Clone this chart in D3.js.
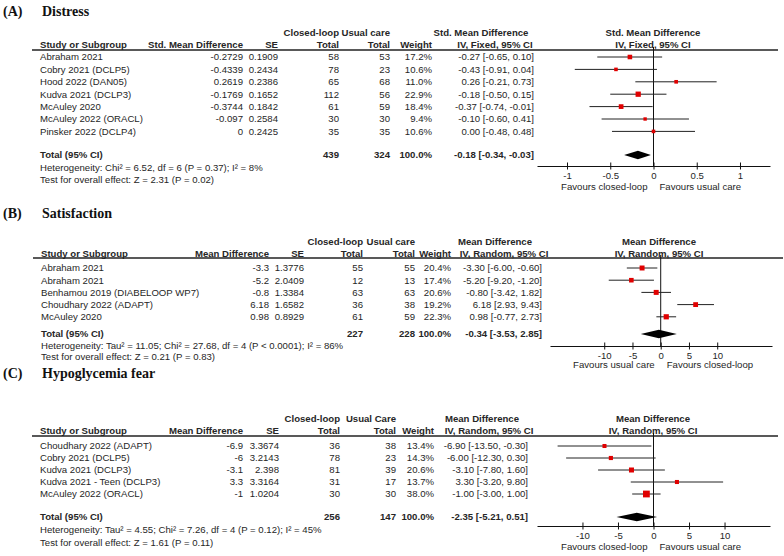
<!DOCTYPE html>
<html><head><meta charset="utf-8">
<script src="https://cdn.jsdelivr.net/npm/d3@7"></script>
<style>
body{margin:0;background:#fff}
svg text{font-family:"Liberation Sans",Arial,sans-serif;fill:#262626}
</style>
</head><body>
<svg id="chart" width="784" height="556"></svg>
<script>
// ---------- Panel A: Distress ----------
const aStudies = ["Abraham 2021","Cobry 2021 (DCLP5)","Hood 2022 (DAN05)","Kudva 2021 (DCLP3)","McAuley 2020","McAuley 2022 (ORACL)","Pinsker 2022 (DCLP4)"];
const aEst = [-0.2729,-0.4339,0.2619,-0.1769,-0.3744,-0.097,0];
const aSE = [0.1909,0.2434,0.2386,0.1652,0.1842,0.2584,0.2425];
const aCL = [58,78,65,112,61,30,35];
const aUC = [53,23,68,56,59,30,35];
const aWeight = [17.2,10.6,11.0,22.9,18.4,9.4,10.6];
const aLo = [-0.65,-0.91,-0.21,-0.50,-0.74,-0.60,-0.48];
const aHi = [0.10,0.04,0.73,0.15,-0.01,0.41,0.48];
const aTotal = {est:-0.18, lo:-0.34, hi:-0.03, cl:439, uc:324};
const aTicks = [-1,-0.5,0,0.5,1];
const aTickLabels = ["-1","-0.5","0","0.5","1"];
const aText = {tag:"(A)", title:"Distress", estHdr:"Std. Mean Difference", ucHdr:"Usual care",
  ciHdr1:"Std. Mean Difference", ciHdr2:"IV, Fixed, 95% CI",
  het:"Heterogeneity: Chi\u00b2 = 6.52, df = 6 (P = 0.37); I\u00b2 = 8%",
  test:"Test for overall effect: Z = 2.31 (P = 0.02)",
  favL:"Favours closed-loop", favR:"Favours usual care"};

// ---------- Panel B: Satisfaction ----------
const bStudies = ["Abraham 2021","Abraham 2021","Benhamou 2019 (DIABELOOP WP7)","Choudhary 2022 (ADAPT)","McAuley 2020"];
const bEst = [-3.3,-5.2,-0.8,6.18,0.98];
const bSE = [1.3776,2.0409,1.3384,1.6582,0.8929];
const bCL = [55,12,63,36,61];
const bUC = [55,13,63,38,59];
const bWeight = [20.4,17.4,20.6,19.2,22.3];
const bLo = [-6.00,-9.20,-3.42,2.93,-0.77];
const bHi = [-0.60,-1.20,1.82,9.43,2.73];
const bTotal = {est:-0.34, lo:-3.53, hi:2.85, cl:227, uc:228};
const bTicks = [-10,-5,0,5,10];
const bTickLabels = ["-10","-5","0","5","10"];
const bText = {tag:"(B)", title:"Satisfaction", estHdr:"Mean Difference", ucHdr:"Usual care",
  ciHdr1:"Mean Difference", ciHdr2:"IV, Random, 95% CI",
  het:"Heterogeneity: Tau\u00b2 = 11.05; Chi\u00b2 = 27.68, df = 4 (P < 0.0001); I\u00b2 = 86%",
  test:"Test for overall effect: Z = 0.21 (P = 0.83)",
  favL:"Favours usual care", favR:"Favours closed-loop"};

// ---------- Panel C: Hypoglycemia fear ----------
const cStudies = ["Choudhary 2022 (ADAPT)","Cobry 2021 (DCLP5)","Kudva 2021 (DCLP3)","Kudva 2021 - Teen (DCLP3)","McAuley 2022 (ORACL)"];
const cEst = [-6.9,-6,-3.1,3.3,-1];
const cSE = [3.3674,3.2143,2.398,3.3164,1.0204];
const cCL = [36,78,81,31,30];
const cUC = [38,23,39,17,30];
const cWeight = [13.4,14.3,20.6,13.7,38.0];
const cLo = [-13.50,-12.30,-7.80,-3.20,-3.00];
const cHi = [-0.30,0.30,1.60,9.80,1.00];
const cTotal = {est:-2.35, lo:-5.21, hi:0.51, cl:256, uc:147};
const cTicks = [-10,-5,0,5,10];
const cTickLabels = ["-10","-5","0","5","10"];
const cText = {tag:"(C)", title:"Hypoglycemia fear", estHdr:"Mean Difference", ucHdr:"Usual Care",
  ciHdr1:"Mean Difference", ciHdr2:"IV, Random, 95% CI",
  het:"Heterogeneity: Tau\u00b2 = 4.55; Chi\u00b2 = 7.26, df = 4 (P = 0.12); I\u00b2 = 45%",
  test:"Test for overall effect: Z = 1.61 (P = 0.11)",
  favL:"Favours closed-loop", favR:"Favours usual care"};

const svg = d3.select("#chart");
const FS = 9.6;

function fmt2(v){ return d3.format(".2f")(v).replace("\u2212","-"); }

function panel(d, L){
  const g = svg.append("g");
  const txt = (x, y, s, anchor, bold) => g.append("text")
    .attr("x", x).attr("y", y).attr("dy","0.35em")
    .attr("text-anchor", anchor || "start")
    .attr("font-size", FS).attr("font-weight", bold ? "bold" : "normal")
    .text(s);
  // title
  g.append("text").attr("x", 3).attr("y", L.title).attr("dy","0.35em")
    .style("font-family","'Liberation Serif','Times New Roman',serif")
    .attr("font-size",14).attr("font-weight","bold").style("fill","#111").text(d.text.tag);
  g.append("text").attr("x", 42).attr("y", L.title).attr("dy","0.35em")
    .style("font-family","'Liberation Serif','Times New Roman',serif")
    .attr("font-size",14).attr("font-weight","bold").style("fill","#111").text(d.text.title);
  const C = L.cols;
  // headers
  txt(C.cl, L.h1, "Closed-loop", "end", true);
  txt(C.uc, L.h1, d.text.ucHdr, "end", true);
  txt(L.ciH1, L.h1, d.text.ciHdr1, "middle", true);
  txt(L.fc, L.h1, d.text.ciHdr1, "middle", true);
  txt(C.name, L.h2, "Study or Subgroup", "start", true);
  txt(C.est, L.h2, d.text.estHdr, "end", true);
  txt(C.se, L.h2, "SE", "end", true);
  txt(C.cl, L.h2, "Total", "end", true);
  txt(C.uc, L.h2, "Total", "end", true);
  txt(C.w, L.h2, "Weight", "end", true);
  txt(L.ciH2, L.h2, d.text.ciHdr2, "middle", true);
  txt(L.fc, L.h2, d.text.ciHdr2, "middle", true);
  g.append("line").attr("x1", L.line[0]).attr("x2", L.line[1])
    .attr("y1", L.hl).attr("y2", L.hl).attr("stroke","#222").attr("stroke-width",1.3);

  const y = d3.scaleLinear().domain([0, 1]).range([L.r0, L.r0 + L.step]);
  const x = d3.scaleLinear().domain(L.dom).range(L.range);

  d.studies.forEach((s, i) => {
    const yy = y(i);
    txt(C.name, yy, s);
    txt(C.est, yy, String(d.est[i]), "end");
    txt(C.se, yy, String(d.se[i]), "end");
    txt(C.cl, yy, d.cl[i], "end");
    txt(C.uc, yy, d.uc[i], "end");
    txt(C.w, yy, d3.format(".1f")(d.w[i]) + "%", "end");
    txt(C.ci, yy, fmt2(d.est[i]) + " [" + fmt2(d.lo[i]) + ", " + fmt2(d.hi[i]) + "]", "end");
  });
  // total row
  txt(C.name, L.tot, "Total (95% CI)", "start", true);
  txt(C.cl, L.tot, d.total.cl, "end", true);
  txt(C.uc, L.tot, d.total.uc, "end", true);
  txt(C.w, L.tot, "100.0%", "end", true);
  txt(C.ci, L.tot, fmt2(d.total.est) + " [" + fmt2(d.total.lo) + ", " + fmt2(d.total.hi) + "]", "end", true);
  txt(C.name, L.het, d.text.het);
  txt(C.name, L.test, d.text.test);

  // forest plot
  g.append("line").attr("x1", x(0)).attr("x2", x(0))
    .attr("y1", L.hl - 3).attr("y2", L.ax).attr("stroke","#111").attr("stroke-width",1);
  g.selectAll(".ci").data(d.studies).enter().append("line")
    .attr("x1", (s,i) => x(d.lo[i])).attr("x2", (s,i) => x(d.hi[i]))
    .attr("y1", (s,i) => y(i)).attr("y2", (s,i) => y(i))
    .attr("stroke","#222").attr("stroke-width",1);
  const side = w => Math.sqrt(w) * 1.1;
  g.selectAll(".sq").data(d.studies).enter().append("rect")
    .attr("x", (s,i) => x(d.est[i]) - side(d.w[i]) / 2)
    .attr("y", (s,i) => y(i) - side(d.w[i]) / 2)
    .attr("width", (s,i) => side(d.w[i]))
    .attr("height", (s,i) => side(d.w[i]))
    .attr("fill","#e00000");
  const t = d.total;
  g.append("path")
    .attr("d", `M${x(t.lo)},${L.tot}L${x(t.est)},${L.tot-4.2}L${x(t.hi)},${L.tot}L${x(t.est)},${L.tot+4.2}Z`)
    .attr("fill","#000");
  const axis = d3.axisBottom(x).tickValues(d.ticks).tickFormat((v,i) => d.tickLabels[i])
    .tickSizeInner(3).tickSizeOuter(0).tickPadding(2);
  const ag = g.append("g").attr("transform", `translate(0,${L.ax})`).call(axis);
  ag.select(".domain").attr("stroke","#111").attr("stroke-width",1);
  ag.selectAll(".tick line").attr("y1",-3.5).attr("y2",3.5).attr("stroke","#111");
  ag.selectAll(".tick text").attr("font-size",FS).style("font-family","'Liberation Sans',Arial,sans-serif")
    .style("fill","#262626").attr("y", 6);
  txt(x(0) - 6, L.fav, d.text.favL, "end");
  txt(x(0) + 6, L.fav, d.text.favR, "start");
}

panel({studies:aStudies, est:aEst, se:aSE, cl:aCL, uc:aUC, w:aWeight, lo:aLo, hi:aHi,
  total:aTotal, ticks:aTicks, tickLabels:aTickLabels, text:aText},
  {title:11, h1:33, h2:45, hl:50, r0:57, step:12.4, tot:155, het:168, test:180,
   ax:166, fav:187, cols:{name:40, est:243, se:278, cl:339, uc:390, w:432, ci:534},
   ciH1:481, ciH2:495, fc:653, dom:[-1.347,1.347], range:[537,770], line:[32,778]});

panel({studies:bStudies, est:bEst, se:bSE, cl:bCL, uc:bUC, w:bWeight, lo:bLo, hi:bHi,
  total:bTotal, ticks:bTicks, tickLabels:bTickLabels, text:bText},
  {title:213, h1:242, h2:254, hl:258, r0:268, step:12.2, tot:334, het:346, test:357,
   ax:346, fav:365, cols:{name:41, est:269, se:304, cl:363, uc:415, w:451, ci:542},
   ciH1:495, ciH2:504, fc:659, dom:[-19.6,19.7], range:[550,772], line:[33,783]});

panel({studies:cStudies, est:cEst, se:cSE, cl:cCL, uc:cUC, w:cWeight, lo:cLo, hi:cHi,
  total:cTotal, ticks:cTicks, tickLabels:cTickLabels, text:cText},
  {title:373, h1:419, h2:431, hl:436, r0:446, step:12, tot:517, het:530, test:543,
   ax:526, fav:547, cols:{name:40, est:243, se:279, cl:340, uc:396, w:434, ci:528},
   ciH1:482, ciH2:489, fc:653, dom:[-16.4,16.4], range:[537,770], line:[32,778]});
</script>
</body></html>
